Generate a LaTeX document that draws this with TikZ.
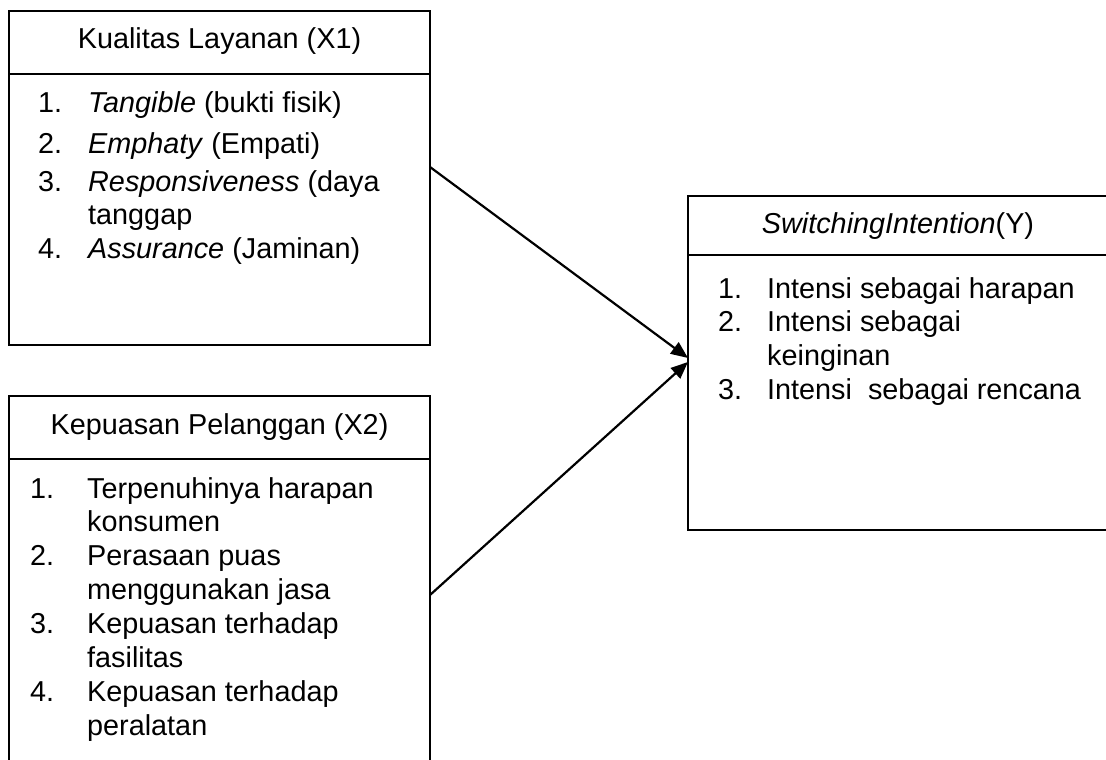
\documentclass[tikz,border=0pt]{standalone}
\usepackage{fontspec}
\setmainfont{Liberation Sans}
\usetikzlibrary{arrows.meta}
\begin{document}
\begin{tikzpicture}[x=1pt,y=-1pt,
  boxframe/.style={draw, line width=2.1pt, rectangle, inner sep=0pt, outer sep=0pt, anchor=north west},
  divider/.style={line width=1.5pt},
  titletext/.style={font=\fontsize{28.8}{33}\selectfont, anchor=base, inner sep=0pt},
  listtext/.style={font=\fontsize{28.8}{#1}\selectfont, anchor=base west, inner sep=0pt},
  link/.style={line width=2.2pt, -{Triangle[length=17pt,width=14pt]}}]
\fill[white] (0,0) rectangle (1106,760);
\useasboundingbox (0,0) rectangle (1106,760);

% boxes
\node[boxframe, minimum width=421pt, minimum height=334pt] (b1) at (9,11) {};
\node[boxframe, minimum width=421pt, minimum height=379pt] (b2) at (9,396) {};
\node[boxframe, minimum width=421pt, minimum height=334pt] (b3) at (688,196) {};

% dividers
\draw[divider] ([yshift=-63pt]b1.north west) -- ([yshift=-63pt]b1.north east);
\draw[divider] ([yshift=-63pt]b2.north west) -- ([yshift=-63pt]b2.north east);
\draw[divider] ([yshift=-59pt]b3.north west) -- ([yshift=-59pt]b3.north east);

% titles
\node[titletext] (t1) at (219.5,49) {Kualitas Layanan (X1)};
\node[titletext] (t2) at (219.5,434) {Kepuasan Pelanggan (X2)};
\node[titletext] (t3) at (898,233) {\textit{SwitchingIntention}(Y)};

% lists
\node[listtext=32.5] (l1) at (38,113) {\begin{tabular}[t]{@{}p{50pt}@{}l@{}}
1. & \textit{Tangible} (bukti fisik)\\[7.5pt]
2. & \textit{Emphaty} (Empati)\\[6.5pt]
3. & \textit{Responsiveness} (daya\\
   & tanggap\\[1.5pt]
4. & \textit{Assurance} (Jaminan)
\end{tabular}};

\node[listtext=33.9] (l2) at (30,498) {\begin{tabular}[t]{@{}p{57pt}@{}l@{}}
1. & Terpenuhinya harapan\\
   & konsumen\\
2. & Perasaan puas\\
   & menggunakan jasa\\
3. & Kepuasan terhadap\\
   & fasilitas\\
4. & Kepuasan terhadap\\
   & peralatan
\end{tabular}};

\node[listtext=33.9] (l3) at (718,298) {\begin{tabular}[t]{@{}p{49pt}@{}l@{}}
1. & Intensi sebagai harapan\\
2. & Intensi sebagai\\
   & keinginan\\
3. & Intensi\ \ sebagai rencana
\end{tabular}};

% connectors
\coordinate (s1) at (430,167);
\coordinate (s2) at (430,595);
\coordinate (e1) at (688,358);
\coordinate (e2) at (688,362);
\draw[link] (s1) -- (e1);
\draw[link] (s2) -- (e2);
\end{tikzpicture}
\end{document}
